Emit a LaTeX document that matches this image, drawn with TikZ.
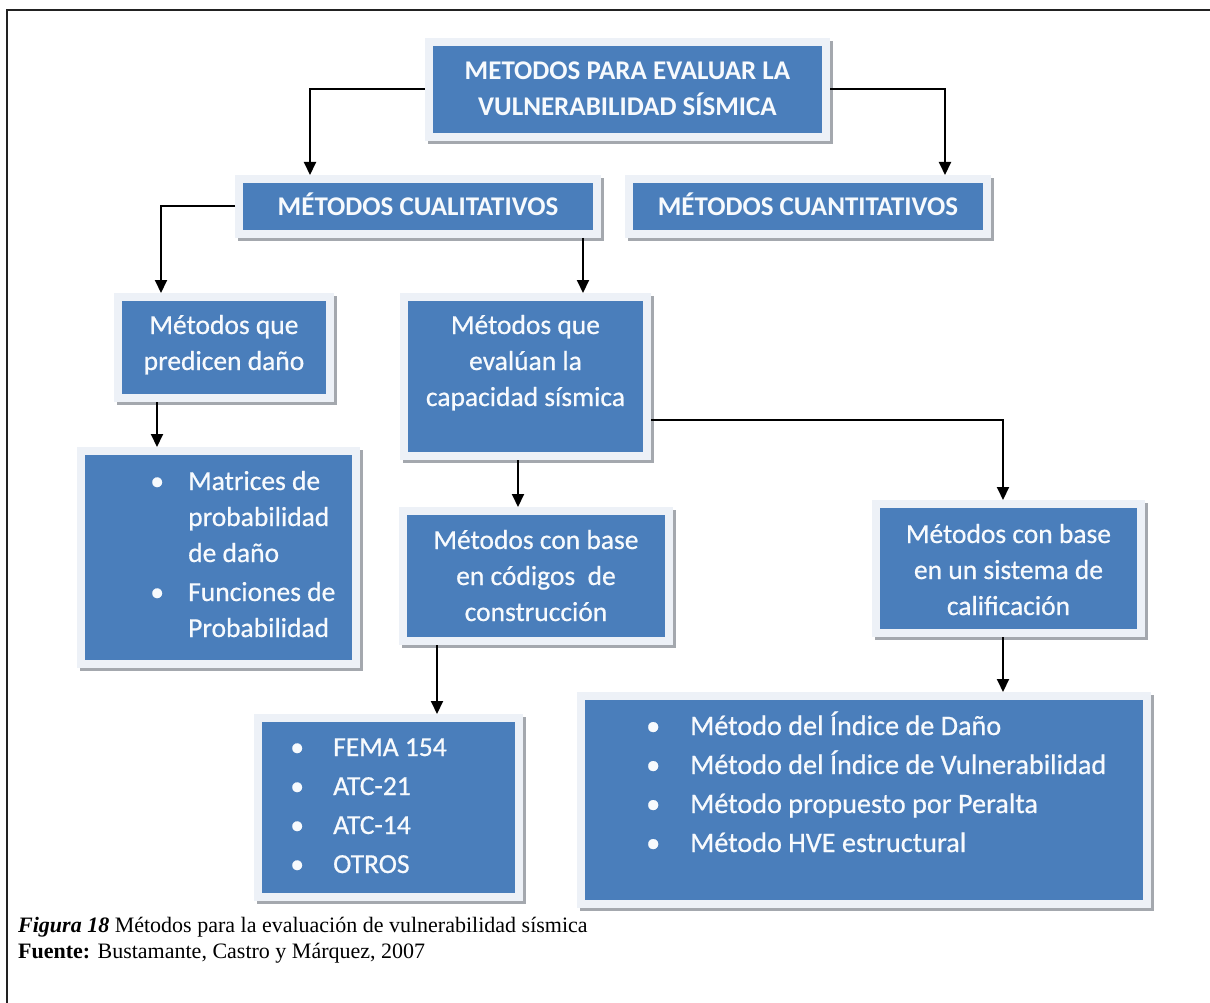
\documentclass[tikz,border=0pt]{standalone}
\usepackage{fontspec}
\setmainfont{Liberation Serif}
\newfontfamily\calibri{Carlito}
\newfontfamily\calibrisoft{Carlito}[FakeBold=0.6]
\usetikzlibrary{arrows.meta}

\definecolor{boxblue}{HTML}{4A7EBB}
\definecolor{boxrim}{HTML}{EDF1F7}
\definecolor{boxshade}{HTML}{A4A8AE}
\definecolor{boxtext}{HTML}{F7FAFD}
\definecolor{framecol}{HTML}{222222}

% centred lines and bullet lists, first baseline = node base
\newcommand\clines[1]{\begin{tabular}[t]{@{}c@{}}#1\end{tabular}}
\newcommand\blist[2]{\begin{tabular}[t]{@{}l@{\hspace{#1}}l@{}}#2\end{tabular}}
\newcommand\itemdot{\makebox[14pt]{\textbullet}}

\tikzset{
  mbox/.style={rectangle, fill=boxblue, draw=boxrim, line width=8pt,
    inner sep=0pt, outer sep=4pt,
    preaction={draw=boxshade, fill=boxshade, line width=8pt,
      transform canvas={shift={(3pt,-3pt)}}}},
  headtxt/.style={text=boxtext, inner sep=0pt, anchor=base,
    font=\calibri\bfseries\fontsize{27}{36}\selectfont},
  bodytxt/.style={text=boxtext, inner sep=0pt, anchor=base,
    font=\calibrisoft\fontsize{27.5}{36}\selectfont},
  listtxt/.style={text=boxtext, inner sep=0pt, anchor=base west,
    font=\calibrisoft\fontsize{27.5}{39}\selectfont},
  conn/.style={draw=black, line width=2pt, -{Triangle[length=13pt,width=12pt]}},
  captxt/.style={inner sep=0pt, anchor=base west, font=\fontsize{22}{26}\selectfont}
}

\begin{document}
\begin{tikzpicture}[x=1pt,y=-1pt]
\useasboundingbox (0,0) rectangle (1210,1003);

% frame of the figure
\draw[framecol, line width=2.5pt] (7,1010) -- (7,10) -- (1215,10);

% boxes
\node[mbox, minimum width=397pt, minimum height=95pt]  (b1)  at (627.5,89.5) {};
\node[mbox, minimum width=358pt, minimum height=55pt]  (b2)  at (418,206.5) {};
\node[mbox, minimum width=358pt, minimum height=55pt]  (b3)  at (808,206.5) {};
\node[mbox, minimum width=212pt, minimum height=101pt] (b4)  at (224,347.5) {};
\node[mbox, minimum width=243pt, minimum height=159pt] (b5)  at (525.5,376.5) {};
\node[mbox, minimum width=275pt, minimum height=213pt] (b6)  at (218.5,557.5) {};
\node[mbox, minimum width=266pt, minimum height=130pt] (b7)  at (536,576) {};
\node[mbox, minimum width=265pt, minimum height=129pt] (b8)  at (1008.5,568.5) {};
\node[mbox, minimum width=261pt, minimum height=179pt] (b9)  at (388.5,807.5) {};
\node[mbox, minimum width=566pt, minimum height=208pt] (b10) at (864,800) {};

% box texts
\node[headtxt] (t1) at (627.5,80) {\clines{METODOS PARA EVALUAR LA\\VULNERABILIDAD SÍSMICA}};
\node[headtxt] (t2) at (418,215) {MÉTODOS CUALITATIVOS};
\node[headtxt] (t3) at (808,215) {MÉTODOS CUANTITATIVOS};
\node[bodytxt] (t4) at (224,334) {\clines{Métodos que\\predicen daño}};
\node[bodytxt] (t5) at (525.5,334) {\clines{Métodos que\\evalúan la\\capacidad sísmica}};
\node[bodytxt] (t7) at (536,549) {\clines{Métodos con base\\en códigos\ \ de\\construcción}};
\node[bodytxt] (t8) at (1008.5,543) {\clines{Métodos con base\\en un sistema de\\calificación}};
\node[bodytxt, anchor=base west] (t6) at (150,490) {\blist{24pt}{%
  \itemdot & Matrices de\\ & probabilidad\\ & de daño\\[3pt]
  \itemdot & Funciones de\\ & Probabilidad}};
\node[listtxt] (t9) at (290,756) {\blist{29pt}{%
  \itemdot & FEMA 154\\ \itemdot & ATC-21\\ \itemdot & ATC-14\\ \itemdot & OTROS}};
\node[listtxt, font=\calibrisoft\fontsize{28.2}{39}\selectfont] (t10) at (646,735) {\blist{30pt}{%
  \itemdot & Método del Índice de Daño\\
  \itemdot & Método del Índice de Vulnerabilidad\\
  \itemdot & Método propuesto por Peralta\\
  \itemdot & Método HVE estructural}};

% bend and drop points of the connectors
\coordinate (xa) at (310,0);
\coordinate (xb) at (945,0);
\coordinate (xc) at (161,0);
\coordinate (xd) at (583,0);
\coordinate (xe) at (1003,0);
\coordinate (xf) at (518,0);
\coordinate (xg) at (157,0);
\coordinate (xh) at (437,0);
\coordinate (ya) at (0,420);

% connectors
\draw[conn] (b1.west) -| (b2.north -| xa);
\draw[conn] (b1.east) -| (b3.north -| xb);
\draw[conn] (b2.west) -| (b4.north -| xc);
\draw[conn] (b2.south -| xd) -- (b5.north -| xd);
\draw[conn] (b5.east |- ya) -| (b8.north -| xe);
\draw[conn] (b5.south -| xf) -- (b7.north -| xf);
\draw[conn] (b4.south -| xg) -- (b6.north -| xg);
\draw[conn] (b7.south -| xh) -- (b9.north -| xh);
\draw[conn] (b8.south -| xe) -- (b10.north -| xe);

% caption
\node[captxt] (cap1) at (18,932) {\textbf{\textit{Figura 18}} Métodos para la evaluación de vulnerabilidad sísmica};
\node[captxt] (cap2) at (18,958) {\textbf{Fuente:} Bustamante, Castro y Márquez, 2007};
\end{tikzpicture}
\end{document}
